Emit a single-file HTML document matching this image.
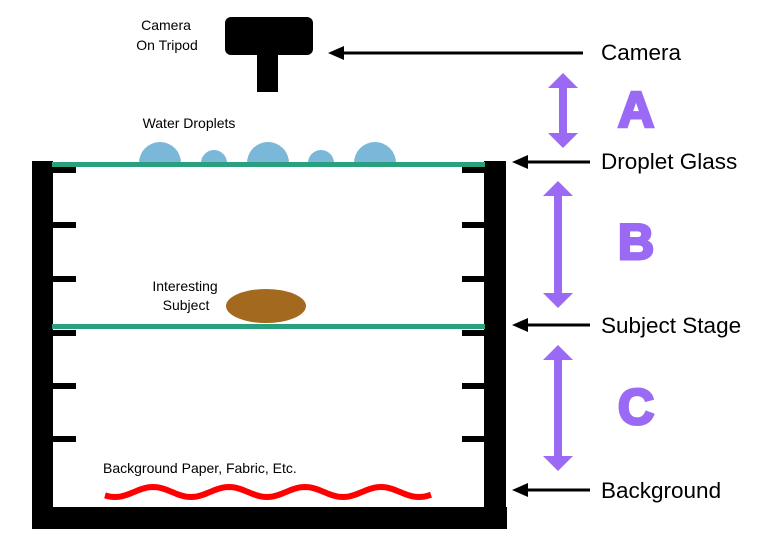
<!DOCTYPE html>
<html><head><meta charset="utf-8"><style>
html,body{margin:0;padding:0;background:#fff;}
svg{display:block;}
text{font-family:"Liberation Sans",sans-serif;}
</style></head><body>
<svg width="768" height="552" viewBox="0 0 768 552" xmlns="http://www.w3.org/2000/svg">
<!-- camera -->
<rect x="225" y="17" width="88" height="38" rx="6" fill="#000"/>
<rect x="257" y="52" width="21" height="40" fill="#000"/>
<text x="166" y="30" font-size="14" text-anchor="middle">Camera</text>
<text x="167" y="50" font-size="14" text-anchor="middle">On Tripod</text>
<text x="189" y="128" font-size="14" text-anchor="middle">Water Droplets</text>
<!-- droplets -->
<g fill="#7ab7d9">
<path d="M139,163 A21,21 0 0 1 181,163 Z"/>
<path d="M201,163 A13,13 0 0 1 227,163 Z"/>
<path d="M247,163 A21,21 0 0 1 289,163 Z"/>
<path d="M308,163 A13,13 0 0 1 334,163 Z"/>
<path d="M354,163 A21,21 0 0 1 396,163 Z"/>
</g>
<!-- frame -->
<rect x="32" y="161" width="21" height="347" fill="#000"/>
<rect x="484" y="161" width="22" height="347" fill="#000"/>
<rect x="32" y="507" width="475" height="22" fill="#000"/>
<g fill="#000">
<rect x="52" y="167" width="24" height="6"/><rect x="462" y="167" width="24" height="6"/>
<rect x="52" y="222" width="24" height="6"/><rect x="462" y="222" width="24" height="6"/>
<rect x="52" y="276" width="24" height="6"/><rect x="462" y="276" width="24" height="6"/>
<rect x="52" y="330" width="24" height="6"/><rect x="462" y="330" width="24" height="6"/>
<rect x="52" y="383" width="24" height="6"/><rect x="462" y="383" width="24" height="6"/>
<rect x="52" y="436" width="24" height="6"/><rect x="462" y="436" width="24" height="6"/>
</g>
<rect x="52" y="162" width="433" height="5" fill="#2aa07e"/>
<rect x="52" y="324" width="433" height="5" fill="#2aa07e"/>
<!-- subject -->
<ellipse cx="266" cy="306" rx="40" ry="17" fill="#a2691f"/>
<text x="185" y="291" font-size="14" text-anchor="middle">Interesting</text>
<text x="186" y="310" font-size="14" text-anchor="middle">Subject</text>
<text x="103" y="473" font-size="14">Background Paper, Fabric, Etc.</text>
<path id="wave" d="" fill="none" stroke="#ff0000" stroke-width="6"/>
<!-- right labels -->
<g stroke="#000" stroke-width="3">
<line x1="583" y1="53" x2="340" y2="53"/>
<line x1="590" y1="162" x2="524" y2="162"/>
<line x1="590" y1="325" x2="524" y2="325"/>
<line x1="590" y1="490" x2="524" y2="490"/>
</g>
<g fill="#000">
<path d="M328,53 L344,46 L344,60 Z"/>
<path d="M512,162 L528,155 L528,169 Z"/>
<path d="M512,325 L528,318 L528,332 Z"/>
<path d="M512,490 L528,483 L528,497 Z"/>
</g>
<g font-size="22.5" fill="#000">
<text x="601" y="60">Camera</text>
<text x="601" y="169">Droplet Glass</text>
<text x="601" y="333">Subject Stage</text>
<text x="601" y="498">Background</text>
</g>
<!-- purple arrows -->
<g fill="#9a6af5">
<path d="M563,73 L578,88 L567,88 L567,133 L578,133 L563,148 L548,133 L559,133 L559,88 L548,88 Z"/>
<path d="M558,181 L573,196 L562,196 L562,293 L573,293 L558,308 L543,293 L554,293 L554,196 L543,196 Z"/>
<path d="M558,345 L573,360 L562,360 L562,456 L573,456 L558,471 L543,456 L554,456 L554,360 L543,360 Z"/>
</g>
<g font-size="50" font-weight="bold" fill="#9a6af5" stroke="#9a6af5" stroke-width="3" text-anchor="middle">
<text x="636" y="127">A</text>
<text x="636" y="259">B</text>
<text x="636" y="424">C</text>
</g>
</svg>
<script>
var d="";for(var x=105;x<=431;x+=2){var y=492-5*Math.cos(2*Math.PI*(x-153)/76);d+=(x==105?"M":"L")+x+","+y.toFixed(2)+" ";}
document.getElementById("wave").setAttribute("d",d);
</script>
</body></html>
